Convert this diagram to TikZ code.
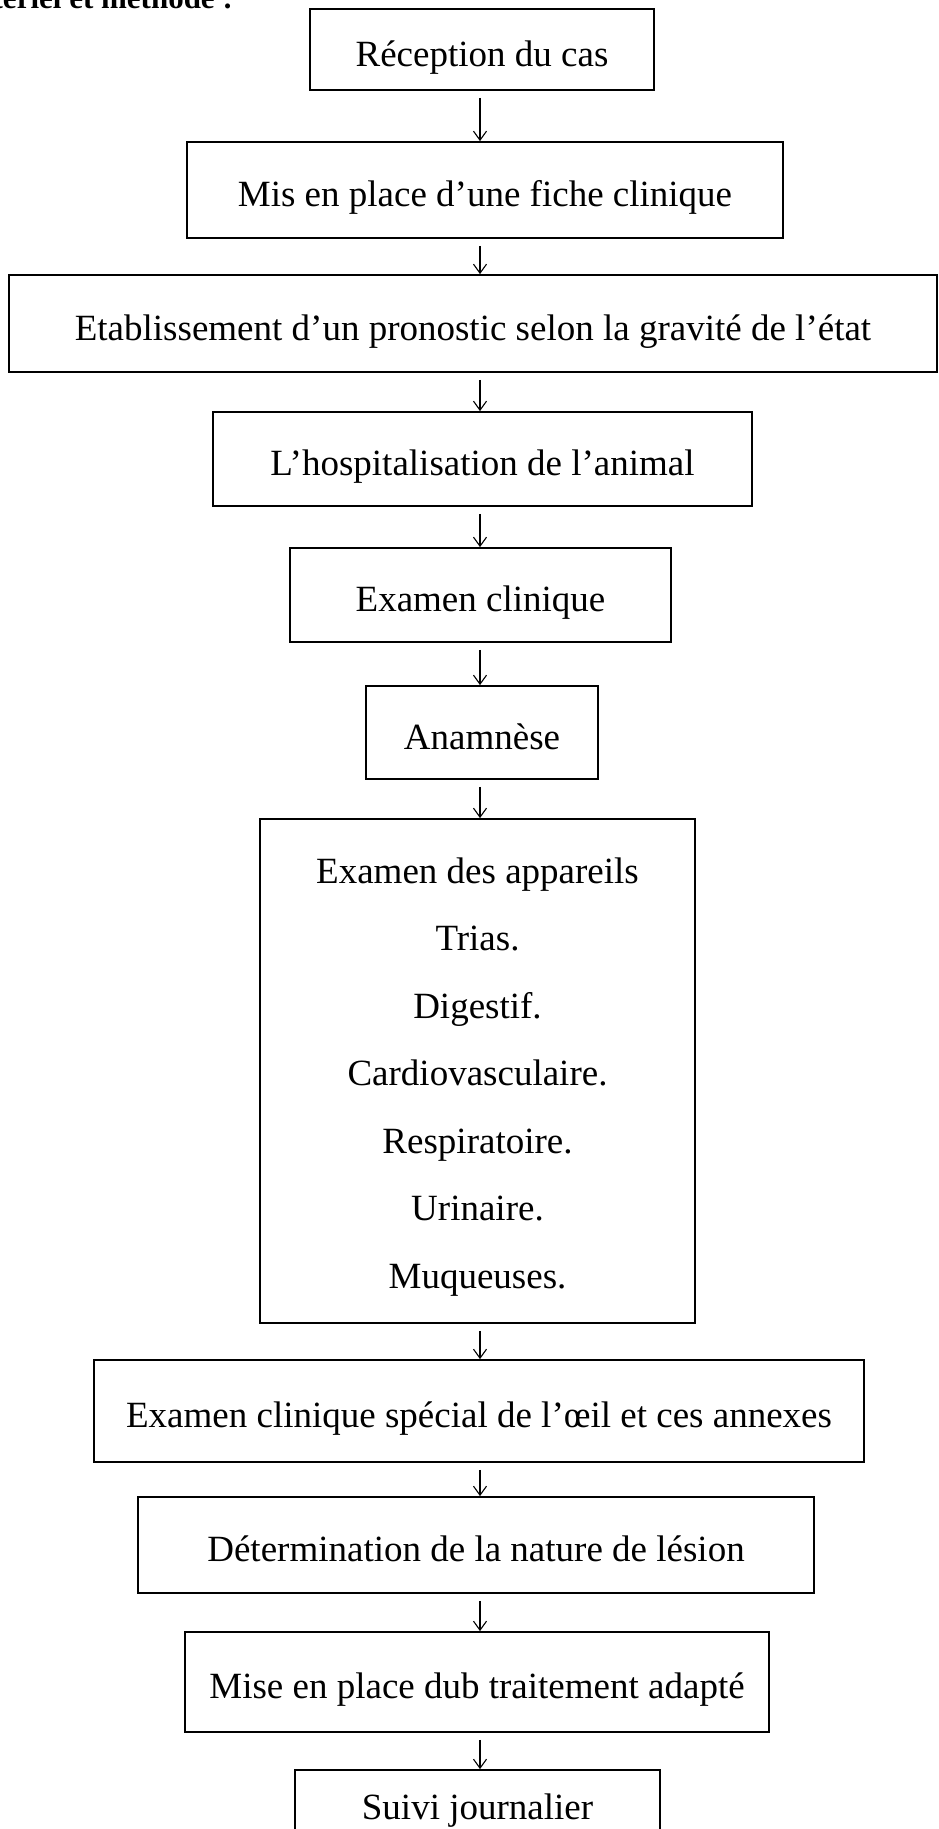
\documentclass[tikz,border=0pt]{standalone}
\usepackage{fontspec}
\setmainfont{Liberation Serif}
\usetikzlibrary{arrows.meta}
\begin{document}
\begin{tikzpicture}[x=1pt,y=-1pt,
  box/.style={draw, line width=1.8pt, inner sep=0pt, align=center,
    text height=33pt, text depth=0pt,
    font=\fontsize{37}{44}\selectfont},
  flow/.style={line width=1.1pt, -{Straight Barb[length=9pt,width=13pt]}, shorten <=7pt}]
\useasboundingbox (0,0) rectangle (939,1829);
\clip (0,0) rectangle (939,1829);
\node[anchor=base east, inner sep=0pt, font=\bfseries\fontsize{31}{38}\selectfont] (head) at (233,8) {Matériel et méthode :};
\coordinate (ax) at (480,0);
\node[box, minimum width=344pt, minimum height=81pt] (b1) at (482,49.5) {Réception du cas};
\node[box, minimum width=596pt, minimum height=96pt] (b2) at (485,190) {Mis en place d’une fiche clinique};
\node[box, minimum width=928pt, minimum height=97pt] (b3) at (473,323.5) {Etablissement d’un pronostic selon la gravité de l’état};
\node[box, minimum width=539pt, minimum height=94pt] (b4) at (482.5,459) {L’hospitalisation de l’animal};
\node[box, minimum width=381pt, minimum height=94pt] (b5) at (480.5,595) {Examen clinique};
\node[box, minimum width=232pt, minimum height=93pt] (b6) at (482,732.5) {Anamnèse};
\node[draw, line width=1.8pt, inner sep=0pt, minimum width=435pt, minimum height=504pt] (b7) at (477.5,1071) {};
\node[inner sep=0pt, align=center, font=\fontsize{37}{67.5}\selectfont] (b7t) at (477.5,1077) {Examen des appareils\\Trias.\\Digestif.\\Cardiovasculaire.\\Respiratoire.\\Urinaire.\\Muqueuses.};
\node[box, minimum width=770pt, minimum height=102pt] (b8) at (479,1411) {Examen clinique spécial de l’œil et ces annexes};
\node[box, minimum width=676pt, minimum height=96pt] (b9) at (476,1545) {Détermination de la nature de lésion};
\node[box, minimum width=584pt, minimum height=100pt] (b10) at (477,1682) {Mise en place dub traitement adapté};
\node[box, minimum width=365pt, minimum height=66pt] (b11) at (477.5,1803) {Suivi journalier};
\foreach \a/\b in {b1/b2,b2/b3,b3/b4,b4/b5,b5/b6,b6/b7,b7/b8,b8/b9,b9/b10,b10/b11}
  \draw[flow] (\a.south -| ax) -- (\b.north -| ax);
\end{tikzpicture}
\end{document}
